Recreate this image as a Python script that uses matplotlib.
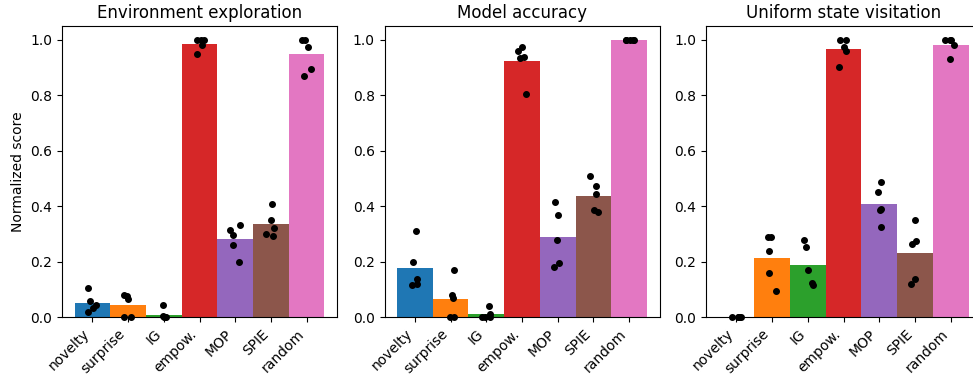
import numpy as np
import matplotlib
matplotlib.use('Agg')
import matplotlib.pyplot as plt

# ----------------------------------------------------------------
# Datos (puntuaciones normalizadas por semilla, 5 semillas por método)
# ----------------------------------------------------------------
metodos = ['novelty', 'surprise', 'IG', 'empow.', 'MOP', 'SPIE', 'random']
titulos = ['Environment exploration', 'Model accuracy', 'Uniform state visitation']

exploracion = [
    [0.106, 0.060, 0.046, 0.034, 0.020],
    [0.075, 0.066, 0.081, 0.000, 0.000],
    [0.045, 0.000, 0.003, 0.000, 0.002],
    [1.000, 1.000, 1.000, 0.982, 0.949],
    [0.316, 0.334, 0.298, 0.262, 0.200],
    [0.410, 0.352, 0.323, 0.302, 0.294],
    [1.000, 1.000, 0.975, 0.896, 0.870],
]

precision_modelo = [
    [0.312, 0.200, 0.139, 0.121, 0.117],
    [0.171, 0.081, 0.069, 0.000, 0.000],
    [0.041, 0.012, 0.000, 0.000, 0.000],
    [0.975, 0.959, 0.938, 0.935, 0.805],
    [0.417, 0.367, 0.280, 0.197, 0.181],
    [0.511, 0.472, 0.445, 0.385, 0.378],
    [1.000, 1.000, 1.000, 1.000, 1.000],
]

visitacion_uniforme = [
    [0.000, 0.000, 0.000, 0.000, 0.000],
    [0.291, 0.291, 0.240, 0.160, 0.095],
    [0.280, 0.255, 0.171, 0.124, 0.117],
    [1.000, 1.000, 0.975, 0.960, 0.902],
    [0.486, 0.450, 0.388, 0.392, 0.327],
    [0.352, 0.276, 0.265, 0.139, 0.121],
    [1.000, 1.000, 0.982, 0.931, 1.000],
]

paneles = [exploracion, precision_modelo, visitacion_uniforme]
colores = ['C0', 'C1', 'C2', 'C3', 'C4', 'C5', 'C6']

# ----------------------------------------------------------------
# Figura
# ----------------------------------------------------------------
fig = plt.figure(figsize=(9.73, 3.77), dpi=100)
izquierdas = [62 / 973, 384.5 / 973, 706 / 973]
ancho = 275 / 973
abajo = 59.7 / 377
alto = 291.3 / 377

rng = np.random.default_rng(3)
x = np.arange(len(metodos))

for i, (datos, titulo) in enumerate(zip(paneles, titulos)):
    ax = fig.add_axes([izquierdas[i], abajo, ancho, alto])
    medias = [np.mean(d) for d in datos]
    ax.bar(x, medias, width=1.0, color=colores)
    for j, d in enumerate(datos):
        jitter = rng.uniform(-0.15, 0.15, size=len(d))
        ax.scatter(x[j] + jitter, d, s=16, color='black', zorder=3, clip_on=False)
    ax.set_xlim(-0.85, len(metodos) - 0.15)
    ax.set_ylim(0, 1.05)
    ax.set_xticks(x)
    ax.set_xticklabels(metodos, rotation=45, ha='right', rotation_mode='default')
    ax.set_title(titulo)
    if i == 0:
        ax.set_ylabel('Normalized score')

fig.savefig('out.png', dpi=100)
